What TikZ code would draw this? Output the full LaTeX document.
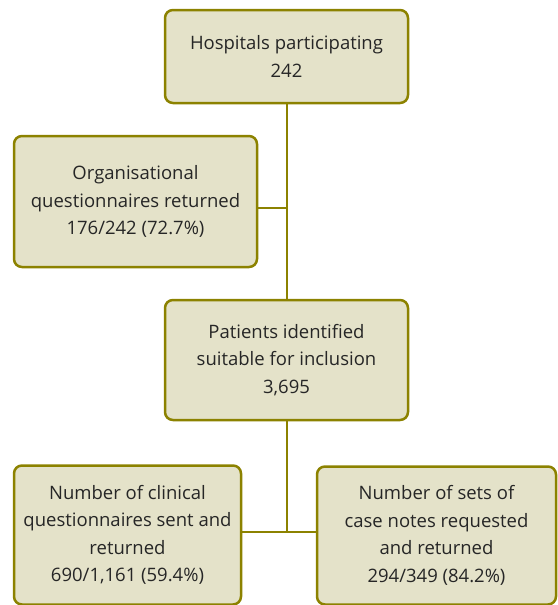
\documentclass[tikz,border=0pt]{standalone}
\usepackage{fontspec}
\setmainfont{Open Sans}
\definecolor{boxfill}{RGB}{228,226,201}
\definecolor{boxline}{RGB}{140,130,0}
\tikzset{
  flowbox/.style={draw=boxline, fill=boxfill, line width=2.5pt, rounded corners=8pt,
    align=center, inner sep=2pt, font=\fontsize{18.5}{27.5}\selectfont, text=black!85},
  link/.style={draw=boxline, line width=2.5pt}
}
\begin{document}
\begin{tikzpicture}[x=1pt, y=-1pt]
  \useasboundingbox (0,0) rectangle (557,605);

  % Boxes
  \node[flowbox, minimum width=243pt, minimum height=93pt] (hosp) at (286.5,56.5)
    {Hospitals participating\\242};
  \node[flowbox, minimum width=243pt, minimum height=131pt] (org) at (135.5,201.5)
    {Organisational\\questionnaires returned\\176/242 (72.7\%)};
  \node[flowbox, minimum width=243pt, minimum height=120pt] (pat) at (286.5,360)
    {Patients identified\\suitable for inclusion\\3,695};
  \node[flowbox, minimum width=227pt, minimum height=139pt] (clin) at (127.5,535)
    {Number of clinical\\questionnaires sent and\\returned\\690/1,161 (59.4\%)};
  \node[flowbox, minimum width=239pt, minimum height=138pt] (case) at (436.5,535.5)
    {Number of sets of\\case notes requested\\and returned\\294/349 (84.2\%)};

  % Connectors
  \coordinate (orgjoin) at (287,208);
  \coordinate (split) at (287,532);
  \draw[link] (hosp.south -| orgjoin) -- (pat.north -| orgjoin);
  \draw[link] (org.east |- orgjoin) -- (orgjoin);
  \draw[link] (pat.south -| split) -- (split);
  \draw[link] (clin.east |- split) -- (case.west |- split);
\end{tikzpicture}
\end{document}
